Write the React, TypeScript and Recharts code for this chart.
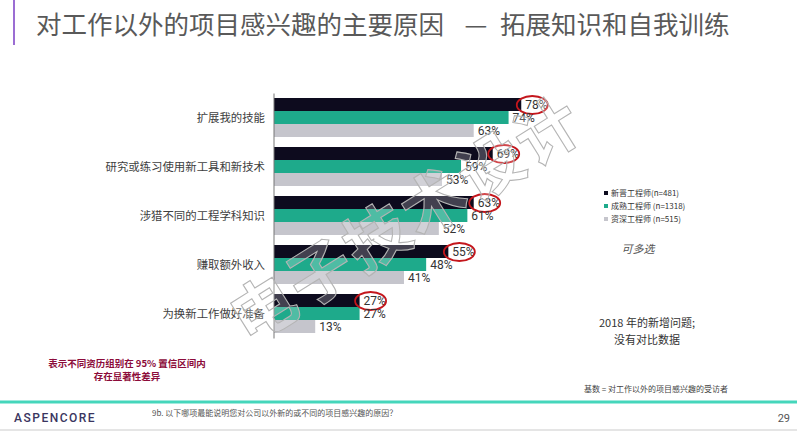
import React from 'react';
import { BarChart, Bar, XAxis, YAxis, LabelList, Legend } from 'recharts';

const categories = [
  '扩展我的技能',
  '研究或练习使用新工具和新技术',
  '涉猎不同的工程学科知识',
  '赚取额外收入',
  '为换新工作做好准备',
];
const newcomerValues = [78, 69, 63, 55, 27];
const midCareerValues = [74, 59, 61, 48, 27];
const seniorValues = [63, 53, 52, 41, 13];
const seriesNames = ['新晋工程师(n=481)', '成熟工程师 (n=1318)', '资深工程师 (n=515)'];
const seriesColors = ['#0d0b1e', '#1eaa8b', '#c5c5cc'];

const data = categories.map((name, i) => ({
  name,
  a: newcomerValues[i],
  b: midCareerValues[i],
  c: seniorValues[i],
}));

const CJK = '"Noto Sans CJK SC", "Noto Sans", sans-serif';
const NUM = 'Roboto, "Noto Sans", sans-serif';

const CircledLabel = (props: any) => {
  const { x, y, width, height, value } = props;
  const endX = Number(x) + Number(width);
  const cy = Number(y) + Number(height) / 2;
  return (
    <g>
      <text x={endX + 4} y={cy} dominantBaseline="central" fontSize={12} fill="#333" fontFamily={NUM}>
        {value}%
      </text>
      <ellipse cx={endX + 11} cy={cy + 0.5} rx={15.5} ry={9} fill="none" stroke="#c4161c" strokeWidth={1.8} />
    </g>
  );
};

const PlainLabel = (props: any) => {
  const { x, y, width, height, value } = props;
  const endX = Number(x) + Number(width);
  const cy = Number(y) + Number(height) / 2;
  return (
    <text x={endX + 4} y={cy} dominantBaseline="central" fontSize={12} fill="#333" fontFamily={NUM}>
      {value}%
    </text>
  );
};

const LegendContent = (props: any) => {
  const items = [...(props.payload || [])].sort(
    (p: any, q: any) => seriesNames.indexOf(p.value) - seriesNames.indexOf(q.value)
  );
  return (
    <div>
      {items.map((p: any, i: number) => (
        <div key={i} style={{ display: 'flex', alignItems: 'center', height: 13, fontFamily: CJK, fontSize: 8, color: '#333', whiteSpace: 'nowrap' }}>
          <span style={{ display: 'inline-block', width: 4, height: 4, background: p.color, marginRight: 3 }} />
          {p.value}
        </div>
      ))}
    </div>
  );
};

export default function App() {
  return (
    <div style={{ position: 'absolute', left: 0, top: 0, width: 797, height: 436, background: '#fff', overflow: 'hidden' }}>
      <BarChart
        width={797}
        height={436}
        data={data}
        layout="vertical"
        margin={{ top: 93.5, right: 206, bottom: 97.5, left: 0 }}
        barCategoryGap={4.5}
        barGap={0}
      >
        <XAxis type="number" domain={[0, 100]} hide />
        <YAxis
          type="category"
          dataKey="name"
          width={274}
          tickLine={false}
          tickSize={0}
          tickMargin={9}
          axisLine={{ stroke: '#777', strokeWidth: 1 }}
          tick={{ fontSize: 11.4, fill: '#404040', fontFamily: CJK }}
          interval={0}
        />
        <Legend
          layout="vertical"
          align="center"
          verticalAlign="middle"
          content={<LegendContent />}
          wrapperStyle={{ position: 'absolute', left: 604, top: 186, width: 150, height: 40 }}
        />
        <Bar dataKey="a" name={seriesNames[0]} fill={seriesColors[0]} isAnimationActive={false}>
          <LabelList dataKey="a" content={<CircledLabel />} />
        </Bar>
        <Bar dataKey="b" name={seriesNames[1]} fill={seriesColors[1]} isAnimationActive={false}>
          <LabelList dataKey="b" content={<PlainLabel />} />
        </Bar>
        <Bar dataKey="c" name={seriesNames[2]} fill={seriesColors[2]} isAnimationActive={false}>
          <LabelList dataKey="c" content={<PlainLabel />} />
        </Bar>
      </BarChart>
      <svg width={797} height={436} style={{ position: 'absolute', left: 0, top: 0, pointerEvents: 'none' }}>
        <line x1={14} y1={0} x2={14} y2={45} stroke="#7a3cc4" strokeWidth={1.5} />
        <text x={36} y={22} dominantBaseline="central" fontSize={25.5} fill="#595959" fontFamily={CJK}>
          对工作以外的项目感兴趣的主要原因
        </text>
        <text x={476} y={22} dominantBaseline="central" textAnchor="middle" fontSize={25.5} fill="#595959" fontFamily={CJK}>
          —
        </text>
        <text x={500} y={22} dominantBaseline="central" fontSize={25.5} fill="#595959" fontFamily={CJK}>
          拓展知识和自我训练
        </text>

        <text x={404} y={215} transform="rotate(-32 404 215)" textAnchor="middle" dominantBaseline="central"
          fontSize={64} fontWeight={700} fontFamily={CJK} fill="rgba(255,255,255,0.22)" stroke="#b4b4b4"
          strokeWidth={1.1} letterSpacing={3}>
          电子技术设计
        </text>

        <text x={638} y={248} dominantBaseline="central" textAnchor="middle" fontSize={11} fontStyle="italic" fill="#555" fontFamily={CJK}>
          可多选
        </text>
        <text x={647} y={322} dominantBaseline="central" textAnchor="middle" fontSize={11} fill="#333" fontFamily={CJK}>
          2018 年的新增问题;
        </text>
        <text x={647} y={339} dominantBaseline="central" textAnchor="middle" fontSize={11} fill="#333" fontFamily={CJK}>
          没有对比数据
        </text>

        <text x={127} y={363} dominantBaseline="central" textAnchor="middle" fontSize={9.5} fontWeight={700} fill="#8c0b3a" fontFamily={CJK}>
          表示不同资历组别在 95% 置信区间内
        </text>
        <text x={127} y={376} dominantBaseline="central" textAnchor="middle" fontSize={9.5} fontWeight={700} fill="#8c0b3a" fontFamily={CJK}>
          存在显著性差异
        </text>

        <text x={584} y={388} dominantBaseline="central" fontSize={8} fill="#444" fontFamily={CJK}>
          基数 = 对工作以外的项目感兴趣的受访者
        </text>

        <line x1={0} y1={402} x2={797} y2={402} stroke="#45d6bb" strokeWidth={3} />
        <text x={14} y={418} dominantBaseline="central" fontSize={12} fill="#3a3560" fontFamily={NUM} fontWeight={500} letterSpacing={1.5}>
          ASPENCORE
        </text>
        <text x={152} y={412} dominantBaseline="central" fontSize={8} fill="#555" fontFamily={CJK}>
          9b. 以下哪项最能说明您对公司以外新的或不同的项目感兴趣的原因？
        </text>
        <text x={790} y={418} dominantBaseline="central" textAnchor="end" fontSize={11} fill="#555" fontFamily={NUM}>
          29
        </text>
        <line x1={0} y1={430} x2={797} y2={430} stroke="#dcdcdc" strokeWidth={1.5} />
      </svg>
    </div>
  );
}
